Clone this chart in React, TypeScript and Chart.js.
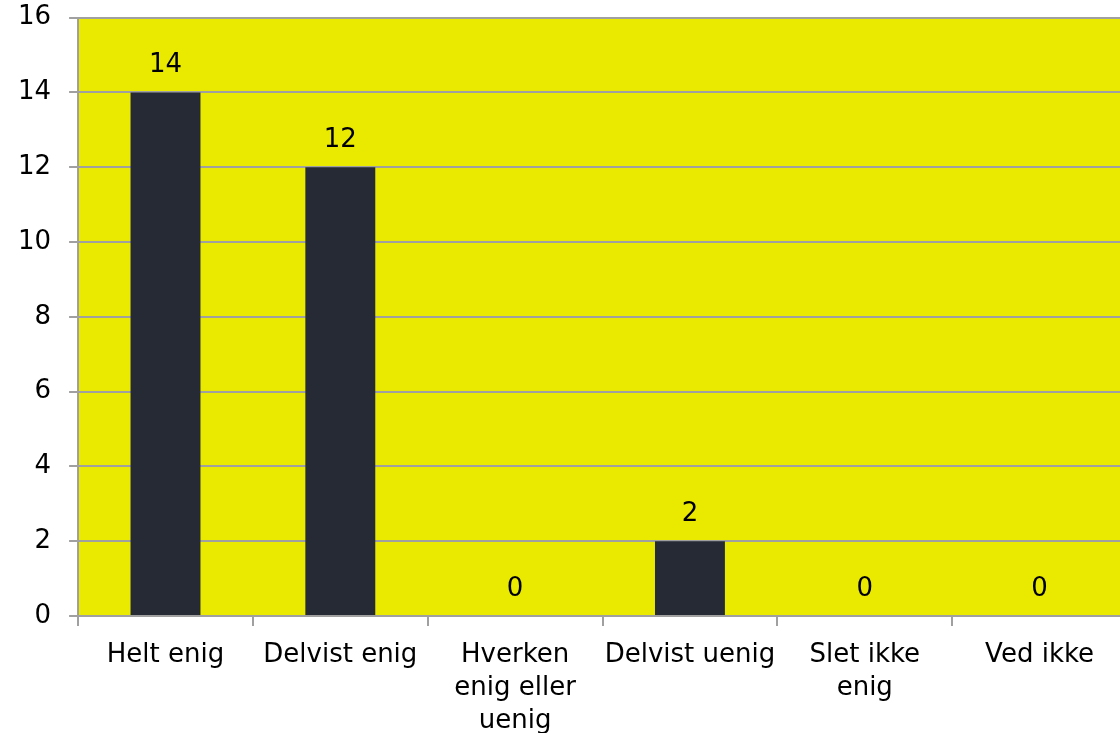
import React, { useEffect, useRef } from "react";
import { Chart, registerables } from "chart.js";

Chart.register(...registerables);

const categories: (string | string[])[] = [
  "Helt enig",
  "Delvist enig",
  ["Hverken", "enig eller", "uenig"],
  "Delvist uenig",
  ["Slet ikke", "enig"],
  "Ved ikke",
];
const values = [14, 12, 0, 2, 0, 0];
const yMax = 16;
const yStep = 2;

const FONT = "'DejaVu Sans', Verdana, sans-serif";
const YELLOW = "rgb(234,234,0)";
const BAR = "#252a35";
const GRID = "#a0a0a0";

const valueLabels = {
  id: "valueLabels",
  afterDatasetsDraw(chart: any) {
    const ctx = chart.ctx;
    const meta = chart.getDatasetMeta(0);
    ctx.save();
    ctx.font = `26px ${FONT}`;
    ctx.fillStyle = "#000";
    ctx.textAlign = "center";
    ctx.textBaseline = "middle";
    meta.data.forEach((el: any, i: number) => {
      ctx.fillText(String(values[i]), el.x, el.y - 27);
    });
    ctx.restore();
  },
};

const plotBg = {
  id: "plotBg",
  beforeDraw(chart: any) {
    const { ctx, chartArea } = chart;
    ctx.save();
    ctx.fillStyle = YELLOW;
    ctx.fillRect(chartArea.left, chartArea.top, chartArea.right - chartArea.left, chartArea.bottom - chartArea.top);
    ctx.restore();
  },
};

export default function App() {
  const ref = useRef<HTMLCanvasElement>(null);
  useEffect(() => {
    if (!ref.current) return;
    const chart = new Chart(ref.current, {
      type: "bar",
      data: {
        labels: categories,
        datasets: [
          {
            data: values,
            backgroundColor: BAR,
            barPercentage: 0.4,
            categoryPercentage: 1,
          },
        ],
      },
      options: {
        animation: false,
        responsive: false,
        maintainAspectRatio: false,
        layout: { padding: { top: 5, right: 3, left: 0, bottom: 0 } },
        plugins: { legend: { display: false }, tooltip: { enabled: false } },
        scales: {
          x: {
            offset: true,
            grid: {
              offset: true,
              drawOnChartArea: false,
              drawTicks: true,
              tickLength: 10,
              color: GRID,
              lineWidth: 2,
            },
            border: { color: GRID, width: 2 },
            ticks: {
              color: "#000",
              font: { family: FONT, size: 26, lineHeight: 1.27 },
              maxRotation: 0,
              autoSkip: false,
              padding: 13,
            },
          },
          y: {
            min: 0,
            max: yMax,
            grid: { color: GRID, lineWidth: 2, tickLength: 9 },
            border: { color: GRID, width: 2 },
            ticks: {
              stepSize: yStep,
              color: "#000",
              font: { family: FONT, size: 26 },
              padding: 18,
            },
          },
        },
      },
      plugins: [plotBg, valueLabels],
    });
    return () => chart.destroy();
  }, []);
  return (
    <div style={{ position: "fixed", left: 0, top: 0, width: 1120, height: 733, overflow: "hidden", background: "#fff" }}>
      <canvas
        ref={ref}
        width={1130}
        height={767}
        style={{ display: "block", position: "absolute", left: 0, top: -16 }}
      />
    </div>
  );
}
